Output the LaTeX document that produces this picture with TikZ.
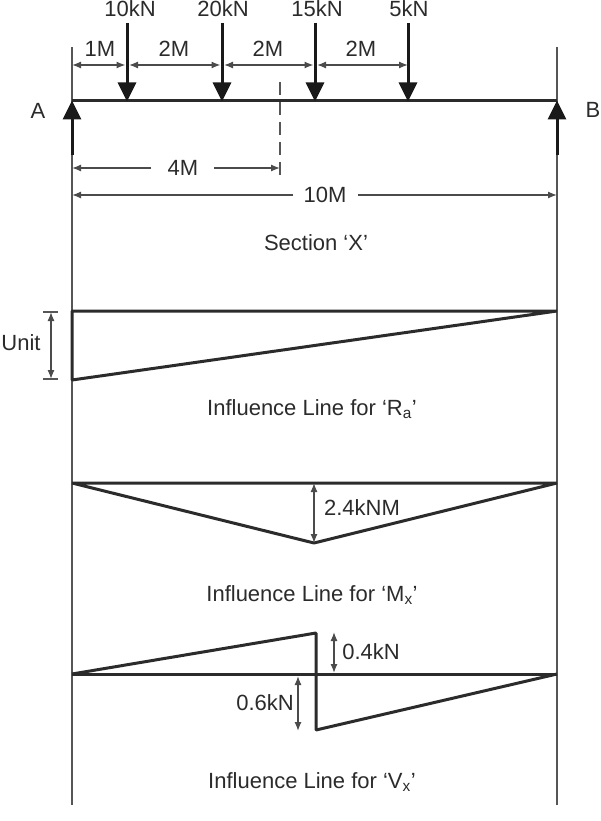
\documentclass[tikz,border=0pt]{standalone}
\usepackage{fontspec}
\setmainfont{Liberation Sans}
\usetikzlibrary{arrows.meta}
\definecolor{inkc}{rgb}{0.17,0.17,0.17}
\tikzset{
    lbl/.style={text=inkc, font=\fontsize{22}{26}\selectfont, inner sep=0pt},
    thin line/.style={draw=inkc!80, line width=1.3},
    thick line/.style={draw=inkc, line width=3, line join=bevel},
    dim/.style={draw=inkc!85, line width=1.3, {Latex[length=9,width=7]}-{Latex[length=9,width=7]}},
    dimend/.style={draw=inkc!85, line width=1.3, -{Latex[length=9,width=7]}},
    force/.style={draw=black!90, line width=3, -{Triangle[length=19,width=18]}, shorten >=-0.5}
}

\begin{document}
\begin{tikzpicture}[x=1pt,y=1pt,yscale=-1,xscale=1]
		\useasboundingbox (0,0) rectangle (600,821);
		
		% Points
		\coordinate (leftTop) at (72,47);
		\coordinate (leftBot) at (72,805);
		\coordinate (rightTop) at (557,47);
		\coordinate (rightBot) at (557,805);
		\coordinate (A) at (72,101);
		\coordinate (B) at (557,101);
		\coordinate (Atail) at (72,155);
		\coordinate (Btail) at (557,155);
		\coordinate (secTop) at (280,82);
		\coordinate (secBot) at (280,182);
		
		% Load points
		\foreach \name/\xpos in {a/127,b/222,c/315,d/408}{
			\coordinate (\name top) at (\xpos,23);
			\coordinate (\name dim) at (\xpos,65);
			\coordinate (\name) at (\xpos,101);
		}
		\coordinate (zerodim) at (72,65);
		
		% Verticals
		\draw [thin line] (leftTop) -- (leftBot);
		\draw [thin line] (rightTop) -- (rightBot);
		
		% Beam
		\draw [thick line] (A) -- (B);
		\draw [force] (Atail) -- (A);
		\draw [force] (Btail) -- (B);
		\foreach \name in {a,b,c,d}{
			\draw [force] (\name top) -- (\name);
		}
		\draw [thin line, dash pattern=on 13 off 7] (secTop) -- (secBot);
		
		% Text Node
		\node [lbl] (labelA) at (38,111) {A};
		\node [lbl] (labelB) at (593,110) {B};
		\node [lbl] (load1) at (130,8.5) {10kN};
		\node [lbl] (load2) at (223,8.5) {20kN};
		\node [lbl] (load3) at (317,8.5) {15kN};
		\node [lbl] (load4) at (409,8.5) {5kN};
		\node [lbl] (span1) at (100,49) {1M};
		\node [lbl] (span2) at (174,49) {2M};
		\node [lbl] (span3) at (268,49) {2M};
		\node [lbl] (span4) at (361,49) {2M};
		
		% Connection
		\draw [dim, shorten >=1.5] (zerodim) -- (adim);
		\draw [dim, shorten <=2, shorten >=1.5] (adim) -- (bdim);
		\draw [dim, shorten <=2, shorten >=1.5] (bdim) -- (cdim);
		\draw [dim, shorten <=2] (cdim) -- (ddim);
		
		% Section distance
		\node [lbl] (dist4) at (183,168) {4M};
		\coordinate (d4left) at (72,168);
		\coordinate (d4right) at (280,168);
		\draw [dimend] (dist4) ++(-32,0) coordinate (d4a) -- (d4left);
		\draw [dimend] (dist4) ++(31,0) coordinate (d4b) -- (d4right);
		
		% Span
		\node [lbl] (dist10) at (325,195) {10M};
		\coordinate (d10left) at (72,195);
		\coordinate (d10right) at (557,195);
		\draw [dimend] (dist10) ++(-32,0) coordinate (d10a) -- (d10left);
		\draw [dimend] (dist10) ++(33,0) coordinate (d10b) -- (d10right);
		\node [lbl] (secText) at (316,243) {Section ‘X’};
		
		% Reaction line
		\coordinate (raTop) at (72,311);
		\coordinate (raBot) at (72,380);
		\coordinate (raEnd) at (557,311);
		\draw [thick line] (raEnd) -- (raTop) -- (raBot) -- cycle;
		\coordinate (unitTop) at (51,312);
		\coordinate (unitBot) at (51,379);
		\draw [dim] (unitTop) -- (unitBot);
		\draw [thin line] (43,312) -- (58,312);
		\draw [thin line] (43,379) -- (58,379);
		\node [lbl] (unitText) at (21,343) {Unit};
		\node [lbl] (raText) at (312,409) {Influence Line for ‘R\textsubscript{a}’};
		
		% Moment line
		\coordinate (mxLeft) at (72,483);
		\coordinate (mxRight) at (557,483);
		\coordinate (mxPeak) at (314,543);
		\coordinate (mxTop) at (314,483);
		\draw [thick line] (mxLeft) -- (mxRight) -- (mxPeak) -- cycle;
		\draw [dim] (mxTop) -- (mxPeak);
		\node [lbl] (mxVal) at (362,508) {2.4kNM};
		\node [lbl] (mxText) at (312,595) {Influence Line for ‘M\textsubscript{x}’};
		
		% Shear line
		\coordinate (vxLeft) at (72,674);
		\coordinate (vxRight) at (557,674);
		\coordinate (vxUp) at (316,633);
		\coordinate (vxDown) at (316,730);
		\draw [thick line] (vxLeft) -- (vxRight);
		\draw [thick line] (vxLeft) -- (vxUp) -- (vxDown) -- (vxRight);
		\coordinate (upTop) at (334,632);
		\coordinate (upBot) at (334,673);
		\coordinate (downTop) at (298,676);
		\coordinate (downBot) at (298,731);
		\draw [dim] (upTop) -- (upBot);
		\draw [dim] (downTop) -- (downBot);
		\node [lbl] (upVal) at (371,652) {0.4kN};
		\node [lbl] (downVal) at (265,703) {0.6kN};
		\node [lbl] (vxText) at (312,782) {Influence Line for ‘V\textsubscript{x}’};
		
		\end{tikzpicture}
\end{document}
